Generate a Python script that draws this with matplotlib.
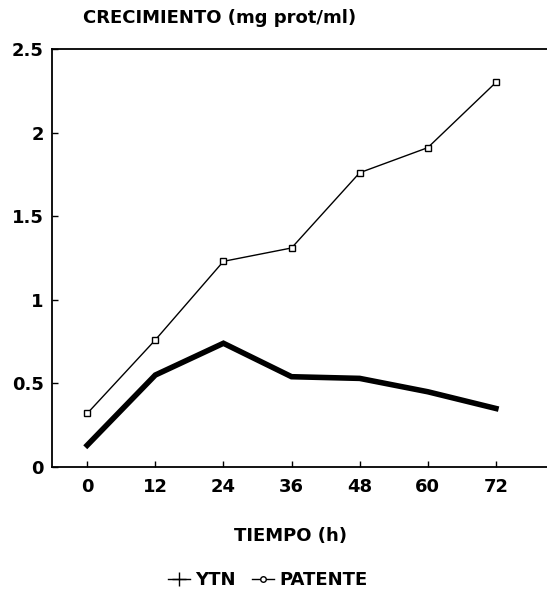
import numpy as np
import matplotlib.pyplot as plt
from matplotlib.lines import Line2D

plt.rcParams['font.family'] = ['DejaVu Sans']
plt.rcParams['font.weight'] = 'bold'

# Tiempo de cultivo (h) y crecimiento (mg prot/ml)
tiempo = [0, 12, 24, 36, 48, 60, 72]
ytn = [0.13, 0.55, 0.74, 0.54, 0.53, 0.45, 0.35]
patente = [0.32, 0.76, 1.23, 1.31, 1.76, 1.91, 2.30]
y_ticks = [0, 0.5, 1, 1.5, 2, 2.5]
y_labels = ['0', '0.5', '1', '1.5', '2', '2.5']

fig = plt.figure(figsize=(5.47, 5.91), dpi=100)
ax = fig.add_axes([52 / 547, 124 / 591, 495 / 547, 418 / 591])

ax.plot(tiempo, ytn, color='black', lw=4.0, solid_joinstyle='miter')
ax.plot(tiempo, patente, color='black', lw=1.0, marker='s', markersize=5,
        markerfacecolor='white', markeredgewidth=1.0)

ax.set_xlim(-6.2, 81)
ax.set_ylim(0, 2.5)
ax.set_xticks(tiempo)
ax.set_yticks(y_ticks)
ax.set_yticklabels(y_labels)
ax.tick_params(direction='in', length=4, width=1, labelsize=13)
ax.tick_params(axis='x', pad=8)
ax.tick_params(axis='y', pad=6)
for lbl in ax.get_xticklabels() + ax.get_yticklabels():
    lbl.set_fontweight('bold')

ax.spines['right'].set_visible(False)
for s in ['left', 'bottom', 'top']:
    ax.spines[s].set_linewidth(1.3)

fig.text(83 / 547, 1 - 18 / 591, 'CRECIMIENTO (mg prot/ml)', fontsize=13,
         fontweight='bold', ha='left', va='center')
fig.text(290 / 547, 1 - 536 / 591, 'TIEMPO (h)', fontsize=13,
         fontweight='bold', ha='center', va='center')

handles = [
    Line2D([], [], color='black', lw=1, marker='+', markersize=10),
    Line2D([], [], color='black', lw=1, marker='o', markersize=4,
           markerfacecolor='white'),
]
fig.legend(handles, ['YTN', 'PATENTE'], loc='center',
           bbox_to_anchor=(268 / 547, 1 - 580 / 591), ncol=2, frameon=False,
           handlelength=1.2, handletextpad=0.3, columnspacing=0.9,
           prop={'weight': 'bold', 'size': 13})

fig.savefig('out.png', dpi=100)
